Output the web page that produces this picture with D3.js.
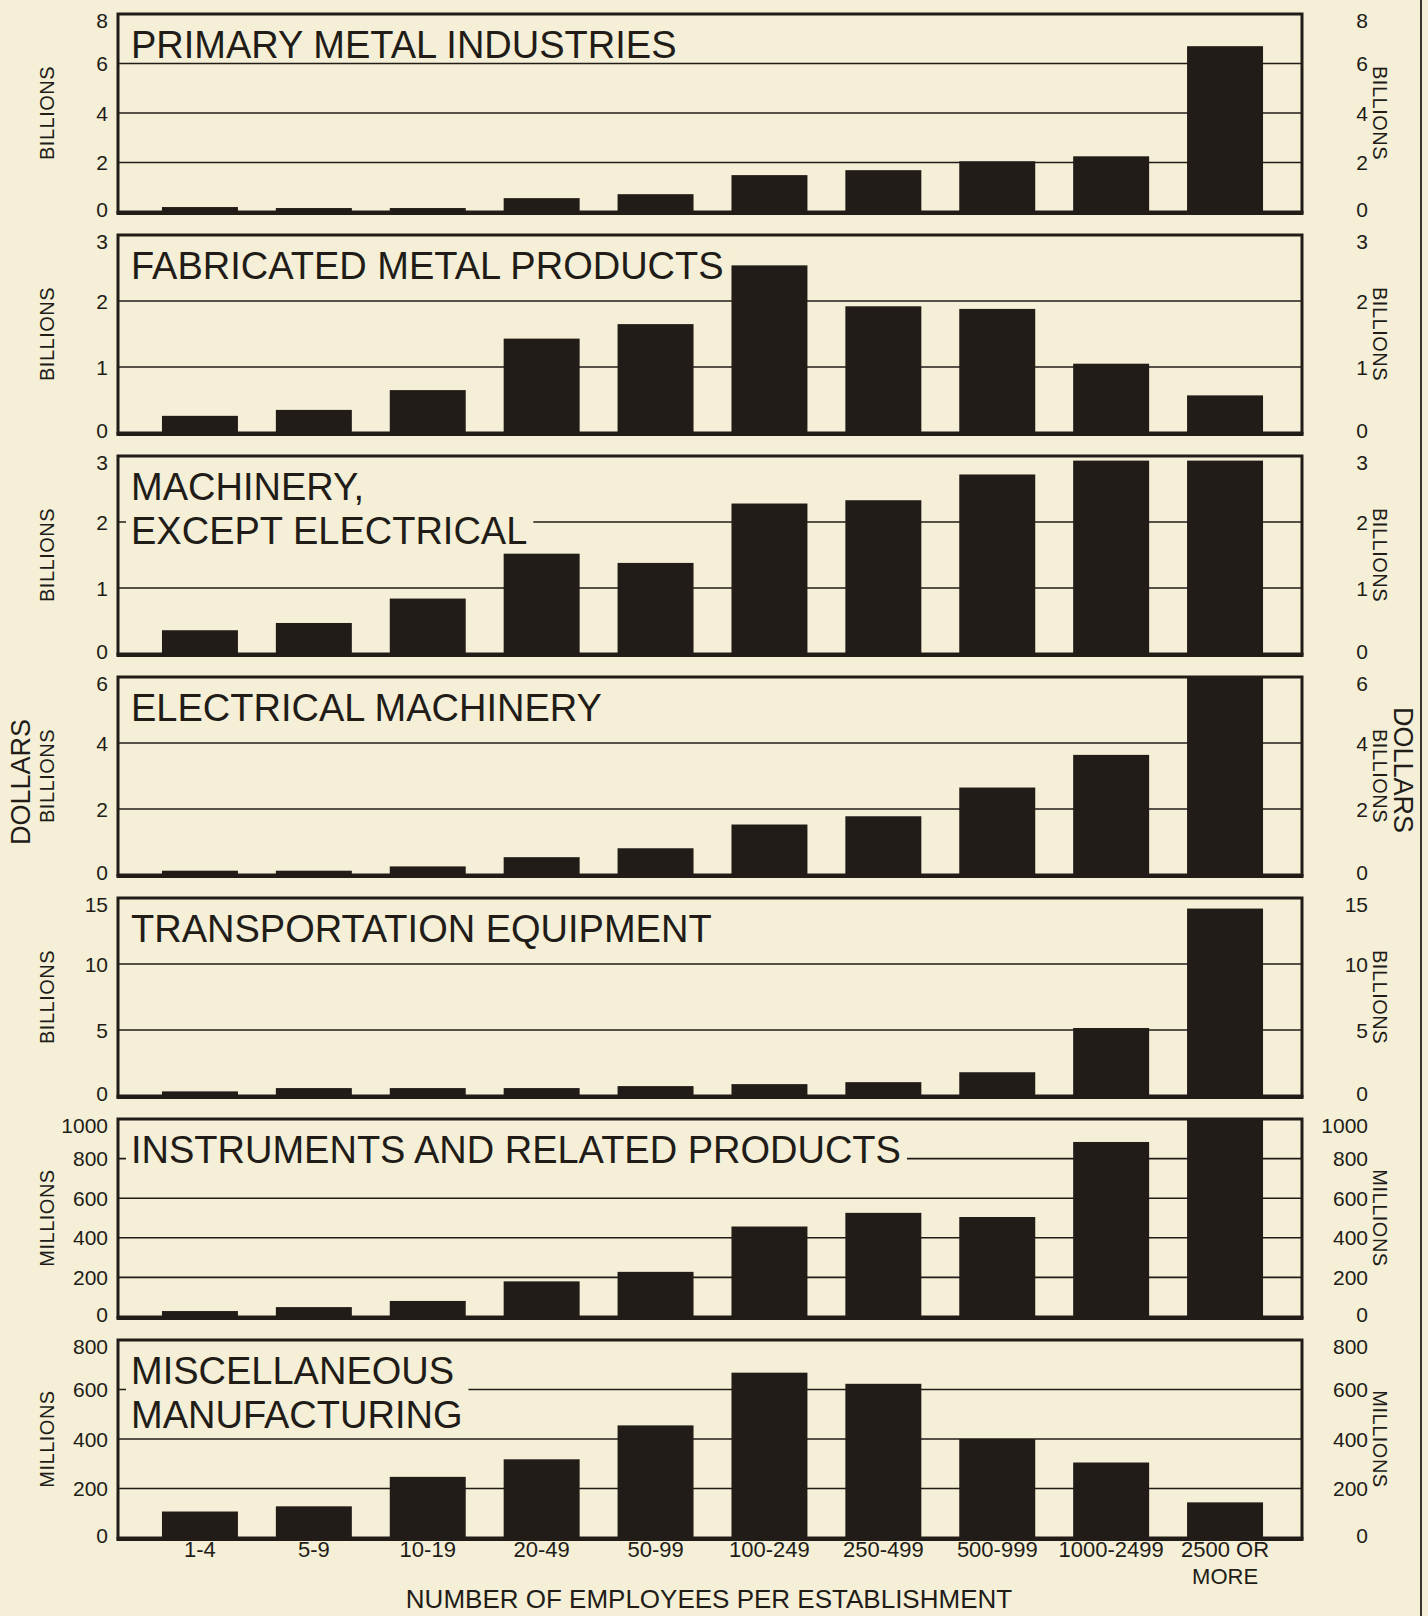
<!DOCTYPE html>
<html>
<head>
<meta charset="utf-8">
<script src="https://cdn.jsdelivr.net/npm/d3@7"></script>
<style>
  body { margin: 0; background: #f4efd6; }
  svg { display: block; }
  text { font-family: "Liberation Sans", Arial, Helvetica, sans-serif; fill: #221c18; }
</style>
</head>
<body>
<script>
// Establishment size classes (number of employees)
const sizeClasses = ["1-4", "5-9", "10-19", "20-49", "50-99", "100-249", "250-499", "500-999", "1000-2499", "2500 OR MORE"];
const sizeLabelLines = [["1-4"], ["5-9"], ["10-19"], ["20-49"], ["50-99"], ["100-249"], ["250-499"], ["500-999"], ["1000-2499"], ["2500 OR", "MORE"]];

// Industry group titles (each entry is the list of title lines)
const titlePrimaryMetal   = ["PRIMARY METAL INDUSTRIES"];
const titleFabricated     = ["FABRICATED METAL PRODUCTS"];
const titleMachinery      = ["MACHINERY,", "EXCEPT ELECTRICAL"];
const titleElectrical     = ["ELECTRICAL MACHINERY"];
const titleTransportation = ["TRANSPORTATION EQUIPMENT"];
const titleInstruments    = ["INSTRUMENTS AND RELATED PRODUCTS"];
const titleMiscellaneous  = ["MISCELLANEOUS", "MANUFACTURING"];

// Values by size class (billions of dollars, except the last two: millions)
const primaryMetal   = [0.2, 0.16, 0.16, 0.56, 0.72, 1.49, 1.69, 2.05, 2.25, 6.7];
const fabricated     = [0.26, 0.35, 0.65, 1.43, 1.65, 2.54, 1.92, 1.88, 1.05, 0.57];
const machinery      = [0.36, 0.47, 0.84, 1.52, 1.38, 2.28, 2.33, 2.72, 2.93, 2.93];
const electrical     = [0.13, 0.13, 0.26, 0.54, 0.81, 1.53, 1.78, 2.65, 3.64, 6.0];
const transportation = [0.35, 0.6, 0.6, 0.6, 0.75, 0.9, 1.05, 1.8, 5.15, 14.2];
const instruments    = [30, 50, 81, 180, 228, 457, 526, 505, 884, 1000];
const miscellaneous  = [107, 128, 247, 318, 455, 668, 623, 400, 305, 144];

// Tick values for each panel's value axis
const ticksPrimaryMetal   = [0, 2, 4, 6, 8];
const ticksFabricated     = [0, 1, 2, 3];
const ticksMachinery      = [0, 1, 2, 3];
const ticksElectrical     = [0, 2, 4, 6];
const ticksTransportation = [0, 5, 10, 15];
const ticksInstruments    = [0, 200, 400, 600, 800, 1000];
const ticksMiscellaneous  = [0, 200, 400, 600, 800];

// Unit captions
const unitBillions = "BILLIONS";
const unitMillions = "MILLIONS";
const unitDollars  = "DOLLARS";
const xAxisTitle   = "NUMBER OF EMPLOYEES PER ESTABLISHMENT";

const panels = [
  { title: titlePrimaryMetal,   values: primaryMetal,   ticks: ticksPrimaryMetal,   unit: unitBillions },
  { title: titleFabricated,     values: fabricated,     ticks: ticksFabricated,     unit: unitBillions },
  { title: titleMachinery,      values: machinery,      ticks: ticksMachinery,      unit: unitBillions },
  { title: titleElectrical,     values: electrical,     ticks: ticksElectrical,     unit: unitBillions, outer: unitDollars },
  { title: titleTransportation, values: transportation, ticks: ticksTransportation, unit: unitBillions },
  { title: titleInstruments,    values: instruments,    ticks: ticksInstruments,    unit: unitMillions },
  { title: titleMiscellaneous,  values: miscellaneous,  ticks: ticksMiscellaneous,  unit: unitMillions }
];

const W = 1428, H = 1616;
const BG = "#f4efd6", INK = "#221c18";
const L = 118, R = 1302;           // panel frame, left/right
const TOP0 = 14, PITCH = 221, PH = 198;

const svg = d3.select("body").append("svg").attr("width", W).attr("height", H);
svg.append("rect").attr("width", W).attr("height", H).attr("fill", BG);

const x = d3.scaleBand()
  .domain(sizeClasses)
  .range([143, 1282])
  .paddingInner(0.333)
  .paddingOuter(0.1665);

panels.forEach((p, i) => {
  const top = TOP0 + i * PITCH, bottom = top + PH;
  const max = p.ticks[p.ticks.length - 1];
  const y = d3.scaleLinear().domain([0, max]).range([bottom, top]);
  const g = svg.append("g");

  // horizontal rules at interior tick values
  g.selectAll("line.grid").data(p.ticks.slice(1, -1)).join("line")
    .attr("class", "grid")
    .attr("x1", L).attr("x2", R)
    .attr("y1", d => y(d)).attr("y2", d => y(d))
    .attr("stroke", INK).attr("stroke-width", 1.6);

  // panel title on a background patch that hides the rules behind it
  const tg = g.append("g");
  const fs = 38, lh = 44, tx = 131, ty = top + 44;
  const t = tg.append("text").attr("font-size", fs).attr("x", tx).attr("y", ty);
  p.title.forEach((line, k) => {
    t.append("tspan").attr("x", tx).attr("y", ty + k * lh).text(line);
  });
  const bb = t.node().getBBox();
  const capTop = ty - fs * 0.72 - 4;
  const lastBase = ty + (p.title.length - 1) * lh + 3;
  tg.insert("rect", "text")
    .attr("x", bb.x - 5).attr("y", capTop)
    .attr("width", bb.width + 11).attr("height", lastBase - capTop)
    .attr("fill", BG);

  // bars
  g.selectAll("rect.bar").data(p.values).join("rect")
    .attr("class", "bar")
    .attr("x", (d, j) => x(sizeClasses[j]))
    .attr("width", x.bandwidth())
    .attr("y", d => Math.max(top, y(d)))
    .attr("height", d => bottom - Math.max(top, y(d)))
    .attr("fill", INK);

  // frame
  g.append("rect")
    .attr("x", L).attr("y", top).attr("width", R - L).attr("height", PH)
    .attr("fill", "none").attr("stroke", INK).attr("stroke-width", 3);
  g.append("line")
    .attr("x1", L - 1.5).attr("x2", R + 1.5).attr("y1", bottom + 1).attr("y2", bottom + 1)
    .attr("stroke", INK).attr("stroke-width", 4);

  // tick labels on both sides
  const tickY = d => y(d) + (d === max ? 6 : d === 0 ? -3 : 0);
  [108, 1368].forEach(axX => {
    g.selectAll(null).data(p.ticks).join("text")
      .attr("x", axX).attr("y", tickY).attr("dy", "0.36em")
      .attr("text-anchor", "end").attr("font-size", 21)
      .text(d => d);
  });

  // unit captions (rotated)
  const cy = (top + bottom) / 2;
  g.append("text")
    .attr("transform", `translate(47,${cy}) rotate(-90)`)
    .attr("text-anchor", "middle").attr("dominant-baseline", "central")
    .attr("font-size", 20).attr("letter-spacing", 0.5)
    .text(p.unit);
  g.append("text")
    .attr("transform", `translate(1380,${cy}) rotate(90)`)
    .attr("text-anchor", "middle").attr("dominant-baseline", "central")
    .attr("font-size", 20).attr("letter-spacing", 0.5)
    .text(p.unit);
  if (p.outer) {
    g.append("text")
      .attr("transform", `translate(21,${cy + 6}) rotate(-90)`)
      .attr("text-anchor", "middle").attr("dominant-baseline", "central")
      .attr("font-size", 27)
      .text(p.outer);
    g.append("text")
      .attr("transform", `translate(1403,${cy - 6}) rotate(90)`)
      .attr("text-anchor", "middle").attr("dominant-baseline", "central")
      .attr("font-size", 27)
      .text(p.outer);
  }
});

// size-class labels under the last panel
const xAxis = d3.axisBottom(x).tickSize(0).tickFormat("");
const lastBottom = TOP0 + (panels.length - 1) * PITCH + PH;
const ax = svg.append("g").attr("transform", `translate(0,${lastBottom})`).call(xAxis);
ax.select(".domain").remove();
ax.selectAll(".tick").each(function (d, j) {
  const tick = d3.select(this);
  tick.select("text").remove();
  const txt = tick.append("text")
    .attr("text-anchor", "middle").attr("font-size", 22)
    .attr("fill", INK);
  sizeLabelLines[j].forEach((line, k) => {
    txt.append("tspan").attr("x", 0).attr("y", 19 + k * 27).text(line);
  });
});

svg.append("text")
  .attr("x", 709).attr("y", 1608)
  .attr("text-anchor", "middle").attr("font-size", 26)
  .text(xAxisTitle);

// page edge rule at right
svg.append("line")
  .attr("x1", 1421).attr("x2", 1421).attr("y1", 0).attr("y2", H)
  .attr("stroke", "#3a332d").attr("stroke-width", 2);
</script>
</body>
</html>
